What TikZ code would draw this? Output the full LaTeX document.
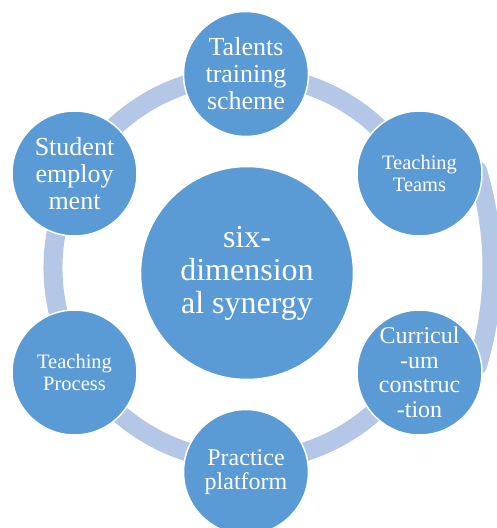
\documentclass[tikz,border=0pt]{standalone}
\usepackage{fontspec}
\setmainfont{Liberation Serif}
\usetikzlibrary{calc}
\definecolor{nodeblue}{HTML}{5B9BD5}
\definecolor{ringblue}{HTML}{B4C7E7}
\begin{document}
\begin{tikzpicture}[x=1pt,y=-1pt,
  ring/.style={draw=ringblue, line width=19pt, line join=round},
  bub/.style={circle, fill=nodeblue, draw=white, line width=1.5pt, inner sep=0pt,
    minimum size=125pt, text=white, align=center},
  big/.style={font=\fontsize{26}{27}\selectfont},
  small/.style={font=\fontsize{20.5}{22}\selectfont},
  mid/.style={font=\fontsize{24}{24.5}\selectfont},
  hub/.style={bub, minimum size=213pt, font=\fontsize{32}{33}\selectfont}
]
\useasboundingbox (0,0) rectangle (496,528);
% ring centres and node positions
\coordinate (rc) at (246,268);
\coordinate (bc) at (159,268);
\coordinate (pteams) at (419.5,173.5);
\coordinate (pcurr) at (419.5,372.5);
% ring
\draw[ring] (rc) ++(30:193) arc (30:330:193);
\draw[ring] (pteams) -- ($(bc)+(-17:333)$) arc (-17:17:333) -- (pcurr);
% nodes
\node[hub] (center) at (247,273) {six-\\dimension\\al synergy};
\node[bub, big] (talents) at (246,74) {Talents\\training\\scheme};
\node[bub, small] (teams) at (pteams) {Teaching\\Teams};
\node[bub, mid] (curr) at (pcurr) {Curricul\\-um\\construc\\-tion};
\node[bub, mid] (practice) at (246,472) {Practice\\platform};
\node[bub, small] (process) at (74.5,372.5) {Teaching\\Process};
\node[bub, big] (student) at (74.5,173.5) {Student\\employ\\ment};
\end{tikzpicture}
\end{document}
